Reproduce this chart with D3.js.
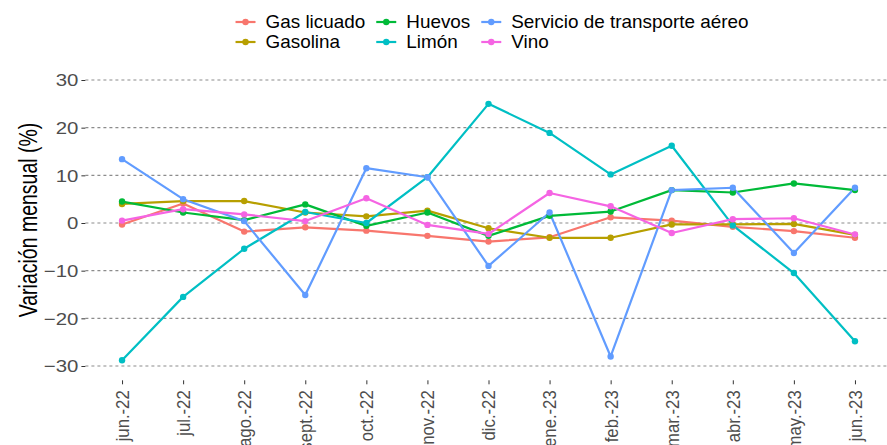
<!DOCTYPE html>
<html>
<head>
<meta charset="utf-8">
<script src="https://cdn.jsdelivr.net/npm/d3@7"></script>
<style>
  body { margin: 0; background: #fff; }
  svg { display: block; font-family: "Liberation Sans", Arial, sans-serif; }
</style>
</head>
<body>
<svg width="887" height="445"></svg>
<script>
(function (d3) {
  'use strict';

  // months on the x axis
  const months = ['jun.-22', 'jul.-22', 'ago.-22', 'sept.-22', 'oct.-22', 'nov.-22', 'dic.-22',
    'ene.-23', 'feb.-23', 'mar.-23', 'abr.-23', 'may.-23', 'jun.-23'];

  // monthly variation (%) per product
  const gasLicuado = [-0.3, 4.1, -1.8, -0.9, -1.6, -2.7, -3.9, -3.0, 1.2, 0.5, -0.8, -1.7, -3.1];
  const gasolina = [4.0, 4.6, 4.6, 2.2, 1.4, 2.6, -1.1, -3.1, -3.1, -0.3, -0.3, -0.2, -2.5];
  const huevos = [4.5, 2.2, 0.6, 3.9, -0.6, 2.2, -2.7, 1.5, 2.4, 6.9, 6.4, 8.3, 6.9];
  const limon = [-28.8, -15.5, -5.4, 2.3, 0.0, 9.6, 25.0, 18.9, 10.2, 16.2, -0.5, -10.5, -24.8];
  const aereo = [13.4, 5.0, 0.4, -15.1, 11.5, 9.6, -9.0, 2.2, -28.0, 6.9, 7.4, -6.3, 7.4];
  const vino = [0.5, 2.9, 1.8, 0.4, 5.2, -0.4, -2.3, 6.3, 3.5, -2.1, 0.8, 1.0, -2.4];

  const seriesNames = ['Gas licuado', 'Gasolina', 'Huevos', 'Limón', 'Servicio de transporte aéreo', 'Vino'];
  const seriesValues = [gasLicuado, gasolina, huevos, limon, aereo, vino];
  const seriesColors = ['#F8766D', '#B79F00', '#00BA38', '#00BFC4', '#619CFF', '#F564E3'];

  const yTicks = [-30, -20, -10, 0, 10, 20, 30];
  const yLimits = [-30, 30];

  const series = seriesNames.map((name, i) => ({
    name,
    color: seriesColors[i],
    values: seriesValues[i].map((v, j) => ({month: months[j], value: v}))
  }));

  const svg = d3.select('svg');
  const panel = {left: 85.4, right: 891.6, top: 65.7, bottom: 380.3};

  const x = d3.scalePoint()
    .domain(months)
    .range([panel.left, panel.right])
    .padding(0.6);

  const pad = (yLimits[1] - yLimits[0]) * 0.05;
  const y = d3.scaleLinear()
    .domain([yLimits[0] - pad, yLimits[1] + pad])
    .range([panel.bottom, panel.top]);

  // grid lines
  svg.append('g')
    .selectAll('line')
    .data(yTicks)
    .join('line')
      .attr('x1', panel.left)
      .attr('x2', panel.right)
      .attr('y1', d => y(d))
      .attr('y2', d => y(d))
      .attr('stroke', '#8c8c8c')
      .attr('stroke-width', 1.1)
      .attr('stroke-dasharray', '3,3');

  // y axis
  const yAxis = svg.append('g')
    .attr('transform', `translate(${panel.left},0)`)
    .call(d3.axisLeft(y).tickValues(yTicks).tickSize(4).tickPadding(3));
  yAxis.select('.domain').remove();
  yAxis.selectAll('.tick line').attr('stroke', '#333');
  yAxis.selectAll('.tick text')
    .attr('fill', '#4D4D4D')
    .attr('font-size', 17)
    .attr('font-family', 'Liberation Sans, Arial, sans-serif')
    .attr('x', null)
    .attr('dy', null)
    .attr('dominant-baseline', 'central')
    .attr('transform', 'translate(-7,0) scale(1.2,1)');

  // x axis
  const xAxis = svg.append('g')
    .attr('transform', `translate(0,${panel.bottom})`)
    .call(d3.axisBottom(x).tickSize(4).tickPadding(0));
  xAxis.select('.domain').remove();
  xAxis.selectAll('.tick line').attr('stroke', '#333');
  xAxis.selectAll('.tick text')
    .attr('fill', '#4D4D4D')
    .attr('font-size', 19)
    .attr('font-family', 'Liberation Sans, Arial, sans-serif')
    .attr('y', null)
    .attr('dy', null)
    .attr('text-anchor', 'end')
    .attr('dominant-baseline', 'central')
    .attr('transform', 'translate(0,10) rotate(-90) scale(0.88,1)');

  // y title
  svg.append('text')
    .attr('transform', 'translate(28,220) rotate(-90) scale(0.75,1)')
    .attr('text-anchor', 'middle')
    .attr('dominant-baseline', 'central')
    .attr('font-size', 26)
    .attr('fill', '#000')
    .text('Variación mensual (%)');

  // lines and points
  const line = d3.line()
    .x(d => x(d.month))
    .y(d => y(d.value));

  svg.append('g')
    .selectAll('path')
    .data(series)
    .join('path')
      .attr('d', d => line(d.values))
      .attr('fill', 'none')
      .attr('stroke', d => d.color)
      .attr('stroke-width', 2.2)
      .attr('stroke-linejoin', 'round');

  svg.append('g')
    .selectAll('g')
    .data(series)
    .join('g')
      .attr('fill', d => d.color)
    .selectAll('circle')
    .data(d => d.values)
    .join('circle')
      .attr('cx', d => x(d.month))
      .attr('cy', d => y(d.value))
      .attr('r', 3.2);

  // legend: two rows, filled column by column
  const legend = svg.append('g');
  const rowY = [22, 42];
  const keyW = 20, keyGap = 10, colGap = 11;
  const legendItems = series.map((s, i) => ({...s, col: Math.floor(i / 2), row: i % 2}));

  const item = legend.selectAll('g')
    .data(legendItems)
    .join('g');

  item.append('line')
    .attr('x1', 0).attr('x2', keyW)
    .attr('y1', d => rowY[d.row]).attr('y2', d => rowY[d.row])
    .attr('stroke', d => d.color)
    .attr('stroke-width', 2.2);
  item.append('circle')
    .attr('cx', keyW / 2)
    .attr('cy', d => rowY[d.row])
    .attr('r', 3.2)
    .attr('fill', d => d.color);
  item.append('text')
    .attr('transform', d => `translate(${keyW + keyGap},${rowY[d.row]}) scale(1.05,1)`)
    .attr('dominant-baseline', 'central')
    .attr('font-size', 18)
    .attr('fill', '#000')
    .text(d => d.name);

  const colWidths = [0, 1, 2].map(c => d3.max(
    item.filter(d => d.col === c).select('text').nodes(),
    n => n.getComputedTextLength() * 1.05));
  const colX = [];
  let cx = 0;
  colWidths.forEach((w, c) => { colX[c] = cx; cx += keyW + keyGap + w + colGap; });
  const totalW = cx - colGap;
  item.attr('transform', d => `translate(${colX[d.col]},0)`);
  legend.attr('transform', `translate(${492 - totalW / 2},0)`);

}(d3));
</script>
</body>
</html>
